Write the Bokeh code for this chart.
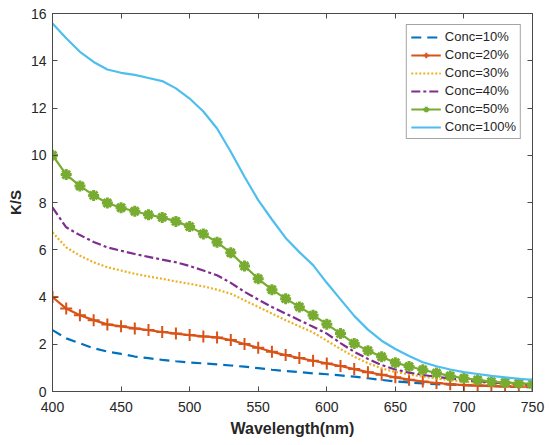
from bokeh.plotting import figure
from bokeh.models import LinearAxis, FixedTicker, Legend, LegendItem, Range1d
from bokeh.embed import file_html
from bokeh.resources import INLINE

wavelength = list(range(400, 751, 10))

conc10 = [2.6, 2.25, 2.04, 1.83, 1.69, 1.59, 1.48, 1.41, 1.34, 1.28, 1.23, 1.19, 1.15, 1.1, 1.05, 0.99,
          0.92, 0.87, 0.82, 0.77, 0.73, 0.68, 0.63, 0.56, 0.49, 0.43, 0.38, 0.34, 0.31, 0.29, 0.27, 0.25,
          0.23, 0.21, 0.19, 0.18]
conc20 = [4.0, 3.51, 3.23, 3.02, 2.84, 2.76, 2.67, 2.6, 2.52, 2.45, 2.39, 2.33, 2.29, 2.18, 2.01, 1.85,
          1.68, 1.54, 1.42, 1.3, 1.19, 1.08, 0.95, 0.82, 0.71, 0.6, 0.5, 0.42, 0.36, 0.31, 0.27, 0.25,
          0.23, 0.22, 0.21, 0.21]
conc30 = [6.74, 6.1, 5.75, 5.47, 5.26, 5.12, 4.98, 4.87, 4.77, 4.66, 4.56, 4.45, 4.31, 4.14, 3.86, 3.58,
          3.3, 3.02, 2.76, 2.5, 2.15, 1.8, 1.47, 1.2, 0.98, 0.83, 0.72, 0.63, 0.55, 0.48, 0.42, 0.37,
          0.33, 0.29, 0.26, 0.24]
conc40 = [7.79, 6.95, 6.62, 6.33, 6.1, 5.96, 5.82, 5.7, 5.58, 5.47, 5.31, 5.12, 4.92, 4.6, 4.22, 3.89,
          3.58, 3.3, 3.02, 2.74, 2.45, 2.05, 1.68, 1.38, 1.12, 0.93, 0.8, 0.7, 0.62, 0.55, 0.49, 0.44,
          0.39, 0.35, 0.31, 0.28]
conc50 = [10.0, 9.18, 8.7, 8.3, 7.98, 7.78, 7.63, 7.48, 7.37, 7.2, 6.98, 6.67, 6.32, 5.87, 5.31, 4.77,
          4.31, 3.93, 3.58, 3.23, 2.85, 2.45, 2.03, 1.73, 1.47, 1.22, 1.06, 0.92, 0.78, 0.66, 0.56, 0.49,
          0.42, 0.38, 0.35, 0.32]
conc100 = [15.58, 14.95, 14.38, 13.95, 13.63, 13.49, 13.4, 13.27, 13.14, 12.83, 12.4, 11.85, 11.13, 10.15,
           9.09, 8.1, 7.28, 6.5, 5.9, 5.35, 4.6, 3.9, 3.2, 2.62, 2.15, 1.8, 1.5, 1.24, 1.07, 0.93, 0.82,
           0.74, 0.66, 0.6, 0.54, 0.49]

labels = ["Conc=10%", "Conc=20%", "Conc=30%", "Conc=40%", "Conc=50%", "Conc=100%"]
xticks = [400, 450, 500, 550, 600, 650, 700, 750]
yticks = [0, 2, 4, 6, 8, 10, 12, 14, 16]

FONT = "Liberation Sans"
AX = "#4a4a4a"
TXT = "#262626"

p = figure(frame_width=480, frame_height=378, output_backend="svg", toolbar_location=None,
           x_range=Range1d(400, 750), y_range=Range1d(0, 16),
           min_border_left=52, min_border_right=16, min_border_top=13, min_border_bottom=52)
p.xgrid.visible = False
p.ygrid.visible = False
p.outline_line_color = AX
p.background_fill_color = "white"

for ax in (p.xaxis[0], p.yaxis[0]):
    ax.major_tick_in = 5
    ax.major_tick_out = 0
    ax.minor_tick_in = 0
    ax.minor_tick_out = 0
    ax.axis_line_color = AX
    ax.major_tick_line_color = AX
    ax.major_label_text_font = FONT
    ax.major_label_text_font_size = "14px"
    ax.major_label_text_color = TXT
    ax.axis_label_text_font = FONT
    ax.axis_label_text_font_style = "bold"
    ax.axis_label_text_color = TXT

p.xaxis[0].ticker = FixedTicker(ticks=xticks)
p.yaxis[0].ticker = FixedTicker(ticks=yticks)
p.xaxis[0].axis_label = "Wavelength(nm)"
p.yaxis[0].axis_label = "K/S"
p.xaxis[0].axis_label_text_font_size = "16px"
p.yaxis[0].axis_label_text_font_size = "15px"
p.xaxis[0].major_label_standoff = 10
p.xaxis[0].axis_label_standoff = 5
p.yaxis[0].major_label_standoff = 6
p.yaxis[0].axis_label_standoff = 4

top = LinearAxis(ticker=FixedTicker(ticks=xticks),
                 major_label_overrides={t: "" for t in xticks},
                 major_label_standoff=0, major_tick_in=5, major_tick_out=0,
                 minor_tick_in=0, minor_tick_out=0, axis_line_color=AX, major_tick_line_color=AX)
right = LinearAxis(ticker=FixedTicker(ticks=yticks),
                   major_label_overrides={t: "" for t in yticks},
                   major_label_standoff=0, major_tick_in=5, major_tick_out=0,
                   minor_tick_in=0, minor_tick_out=0, axis_line_color=AX, major_tick_line_color=AX)
p.add_layout(top, "above")
p.add_layout(right, "right")

LW = 2.2
r10 = p.line(wavelength, conc10, color="#0072BD", line_width=LW, line_dash="10 6")
r20 = p.line(wavelength, conc20, color="#D95319", line_width=LW)
m20 = p.scatter(wavelength, conc20, marker="cross", size=12, line_width=2, color="#D95319")
r30 = p.line(wavelength, conc30, color="#EDB120", line_width=LW, line_dash="2 2")
r40 = p.line(wavelength, conc40, color="#7E2F8E", line_width=LW, line_dash="9 3 3 3")
r50 = p.line(wavelength, conc50, color="#77AC30", line_width=LW)
m50 = p.scatter(wavelength, conc50, marker="asterisk", size=11, line_width=3, color="#77AC30")
r100 = p.line(wavelength, conc100, color="#4DBEEE", line_width=LW)

items = [
    LegendItem(label=labels[0], renderers=[r10]),
    LegendItem(label=labels[1], renderers=[r20, m20]),
    LegendItem(label=labels[2], renderers=[r30]),
    LegendItem(label=labels[3], renderers=[r40]),
    LegendItem(label=labels[4], renderers=[r50, m50]),
    LegendItem(label=labels[5], renderers=[r100]),
]
legend = Legend(items=items, location="top_right", margin=11, padding=4, spacing=3,
                glyph_width=30, glyph_height=14, label_height=14, label_standoff=4,
                label_text_font=FONT, label_text_font_size="13px", label_text_color=TXT,
                border_line_color=AX, border_line_width=1, background_fill_alpha=1.0)
p.add_layout(legend, "center")

open("out.html", "w").write(file_html(p, INLINE))
